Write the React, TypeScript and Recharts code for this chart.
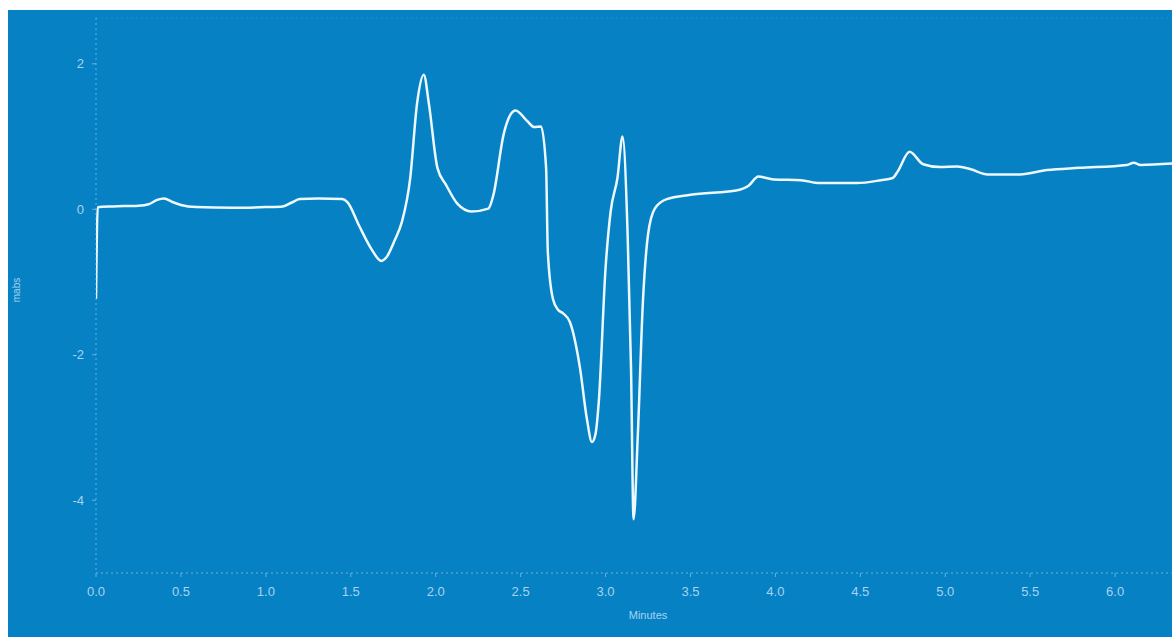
import { LineChart, Line, XAxis, YAxis, ReferenceLine } from "recharts"

// retention time (minutes) and absorbance (mabs)
const minutes = [
  0.0, 0.01, 0.1, 0.25, 0.31, 0.36, 0.4, 0.45, 0.5, 0.59, 0.8, 1.0, 1.1, 1.15, 1.2, 1.31, 1.45, 1.48,
  1.55, 1.62, 1.68, 1.71, 1.76, 1.8, 1.85, 1.89, 1.93, 1.96, 2.01, 2.06, 2.13, 2.21, 2.31, 2.34, 2.4,
  2.44, 2.47, 2.54, 2.58, 2.62, 2.65, 2.66, 2.69, 2.72, 2.75, 2.79, 2.85, 2.89, 2.92, 2.94, 2.96, 3.0,
  3.03, 3.07, 3.1, 3.13, 3.15, 3.165, 3.19, 3.22, 3.25, 3.29, 3.36, 3.5, 3.79, 3.84, 3.9, 3.99, 4.15,
  4.26, 4.48, 4.62, 4.69, 4.72, 4.79, 4.87, 4.97, 5.07, 5.15, 5.25, 5.44, 5.6, 5.79, 6.07, 6.11, 6.15,
  6.34,
]
const mabs = [
  -1.23, 0.03, 0.04, 0.05, 0.07, 0.13, 0.15, 0.1, 0.06, 0.03, 0.02, 0.03, 0.04, 0.09, 0.14, 0.15, 0.14,
  0.1, -0.23, -0.54, -0.71, -0.66, -0.42, -0.18, 0.43, 1.45, 1.85, 1.45, 0.57, 0.34, 0.07, -0.03, 0.01,
  0.2, 1.03, 1.3, 1.36, 1.21, 1.13, 1.14, 0.57, -0.58, -1.23, -1.38, -1.43, -1.55, -2.19, -2.88, -3.2,
  -3.1, -2.65, -0.81, -0.03, 0.43, 1.0, -0.35, -2.19, -4.26, -3.1, -1.27, -0.35, 0.01, 0.14, 0.2, 0.27,
  0.32, 0.45, 0.41, 0.4, 0.36, 0.36, 0.4, 0.43, 0.52, 0.79, 0.62, 0.58, 0.59, 0.55, 0.48, 0.48, 0.54,
  0.57, 0.61, 0.64, 0.61, 0.63,
]
const xTicks = [0, 0.5, 1, 1.5, 2, 2.5, 3, 3.5, 4, 4.5, 5, 5.5, 6]
const yTicks = [-4, -2, 0, 2]

const data = minutes.map((m, i) => ({ x: m, y: mabs[i] }))

const bg = "#0681c4"
const faint = "#a6d3f0"
const font = "Liberation Sans, Arial, sans-serif"

export default function App() {
  return (
    <div style={{ position: "absolute", left: 8, top: 10, width: 1164, height: 627, background: bg }}>
      <LineChart width={1164} height={627} data={data} margin={{ top: 8, right: 0, left: 0, bottom: 0 }}>
        <XAxis
          type="number"
          dataKey="x"
          domain={[0, 6.335]}
          allowDataOverflow
          ticks={xTicks}
          tickFormatter={(v: number) => v.toFixed(1)}
          height={64}
          stroke={faint}
          strokeOpacity={0.6}
          axisLine={{ strokeDasharray: "2 3" }}
          tickSize={4}
          tickMargin={10}
          tick={{ fill: faint, fontSize: 13, fontFamily: font }}
          label={{
            content: () => (
              <text x={640} y={609} fill={faint} fontSize={11} textAnchor="middle" fontFamily={font}>
                Minutes
              </text>
            ),
          }}
        />
        <YAxis
          type="number"
          domain={[-5, 2.63]}
          allowDataOverflow
          ticks={yTicks}
          width={88}
          stroke={faint}
          strokeOpacity={0.6}
          axisLine={{ strokeDasharray: "2 3" }}
          tickSize={4}
          tickMargin={8}
          tick={{ fill: faint, fontSize: 13, fontFamily: font }}
          label={{
            content: () => (
              <text
                x={12}
                y={280}
                fill={faint}
                fontSize={10}
                textAnchor="middle"
                transform="rotate(-90 12 280)"
                fontFamily={font}
              >
                mabs
              </text>
            ),
          }}
        />
        <ReferenceLine y={2.63} stroke={faint} strokeOpacity={0.18} strokeDasharray="2 3" />
        <Line
          type="monotone"
          dataKey="y"
          stroke="#eef8ff"
          strokeWidth={2.5}
          dot={false}
          isAnimationActive={false}
        />
      </LineChart>
    </div>
  )
}
